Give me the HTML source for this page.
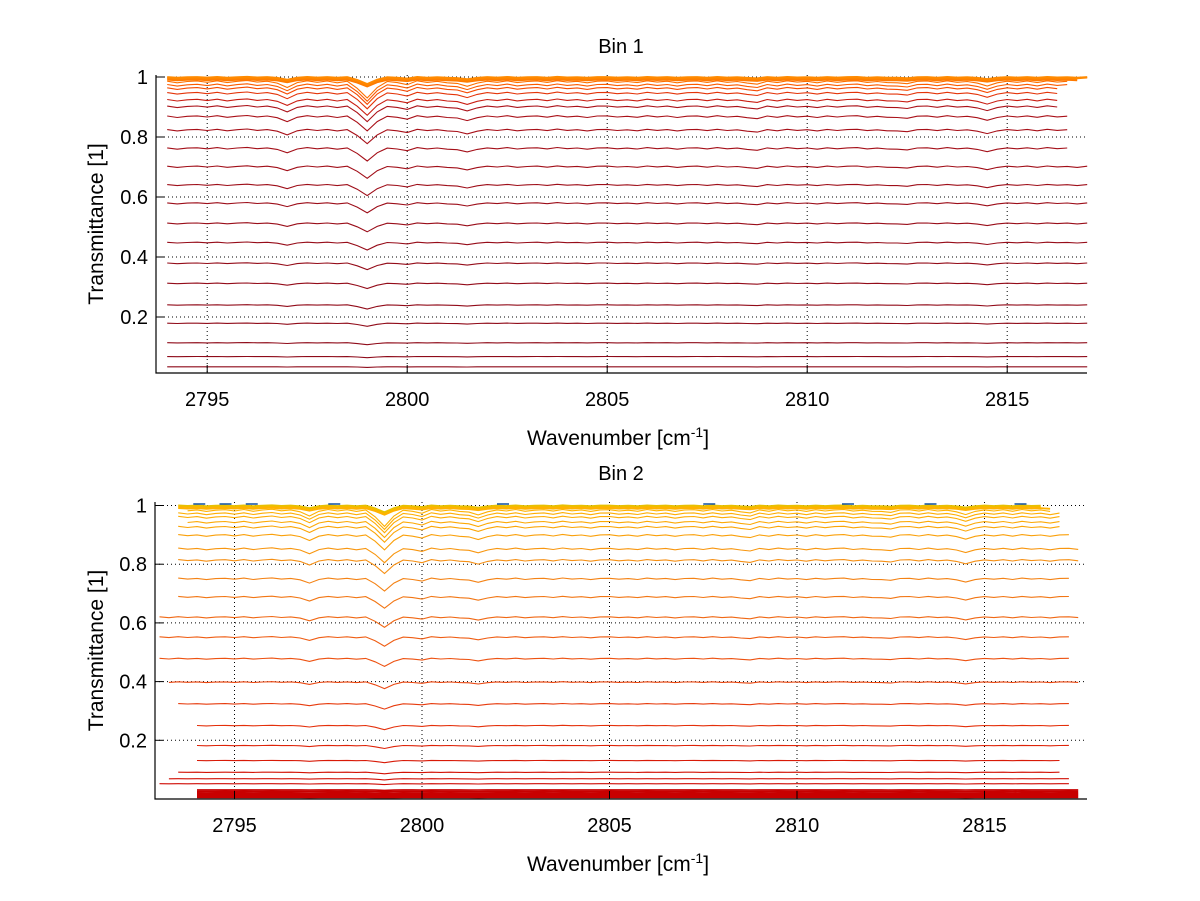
<!DOCTYPE html>
<html><head><meta charset="utf-8"><style>
html,body{margin:0;padding:0;background:#fff;}
svg{display:block;font-family:"Liberation Sans",sans-serif;}
</style></head><body>
<svg id="chart" width="1200" height="901" viewBox="0 0 1200 901"></svg>
<script>
// Shared absorption shape, sampled every 0.25 cm^-1 starting at 2793
const shapeStart = 2793;
const shapeStep = 0.25;
const shape = [
 0.05,-0.04,0.06,-0.02,0.04,-0.06,0.02,0.05,-0.03,0.06,-0.05,0.03,0.08,-0.02,0.04,-0.08,
 -0.35,-0.05,0.06,-0.03,0.05,-0.06,0.04,-0.4,-1.0,-0.35,0.02,-0.05,-0.18,0.06,-0.04,0.03,
 -0.06,-0.1,-0.28,-0.08,0.04,-0.03,0.06,-0.05,0.02,0.05,-0.04,0.07,-0.02,0.03,-0.06,0.04,
 0.05,-0.03,0.02,-0.05,0.06,-0.02,0.04,-0.06,0.03,0.05,-0.04,0.06,-0.03,0.02,-0.08,-0.15,
 0.04,-0.05,0.06,-0.02,0.03,-0.06,0.05,-0.03,0.04,0.06,-0.04,0.02,-0.05,-0.06,-0.12,0.03,
 0.05,-0.04,0.06,-0.03,0.02,-0.08,-0.26,-0.06,0.04,-0.03,0.05,-0.05,0.06,-0.02,0.03,-0.06,
 0.04,0.05,-0.03,0.02,-0.04
];
// Bin 1 trace baselines
const levels1 = [0.034,0.068,0.114,0.179,0.24,0.312,0.379,0.448,0.512,0.579,0.64,0.701,0.762,0.823,0.868,0.901,0.923,0.946,0.962,0.973,0.984,0.99,0.994,0.997,0.999];
const ends1 = [2817,2817,2817,2817,2817,2817,2817,2817,2817,2817,2817,2817,2816.6,2816.6,2816.6,2816.4,2816.4,2816.4,2816.4,2816.6,2816.6,2816.8,2816.8,2817,2817];
// Bin 2 trace baselines
const levels2 = [0.005,0.009,0.013,0.017,0.021,0.026,0.031,0.052,0.069,0.091,0.131,0.182,0.25,0.324,0.398,0.478,0.551,0.619,0.688,0.75,0.813,0.852,0.898,0.926,0.943,0.96,0.972,0.983,0.99,0.995,0.999];
const starts2 = [2793.8,2793.8,2793.8,2793.8,2793.8,2793.8,2793.8,2793,2793.1,2793.3,2793.9,2793.9,2793.8,2793.4,2793.2,2793,2793,2793,2793.3,2793.3,2793.3,2793.5,2793.5,2793.4,2793.6,2793.5,2793.5,2793.6,2793.5,2793.4,2793.5];
const ends2 = [2817.7,2817.7,2817.7,2817.7,2817.7,2817.7,2817.5,2817.3,2817.4,2817.2,2817.2,2817.4,2817.4,2817.4,2817.5,2817.4,2817.4,2817.5,2817.4,2817.4,2817.5,2817.5,2817.3,2817.2,2817.2,2817,2817,2816.8,2816.8,2816.6,2816.6];
const xTicks = [2795,2800,2805,2810,2815];
const yTicks = [0.2,0.4,0.6,0.8,1];
const yTickLabels = ["0.2","0.4","0.6","0.8","1"];

const NS = "http://www.w3.org/2000/svg";
const svg = document.getElementById('chart');
function mk(tag, attrs, parent){
  const e = document.createElementNS(NS, tag);
  for (const k in attrs) e.setAttribute(k, attrs[k]);
  (parent||svg).appendChild(e);
  return e;
}
function lerpColor(stops, t){
  t = Math.max(0, Math.min(1, t));
  const n = stops.length - 1, i = Math.min(n - 1, Math.floor(t * n)), f = t * n - i;
  const a = stops[i], b = stops[i+1];
  return 'rgb(' + [0,1,2].map(k => Math.round(a[k] + (b[k]-a[k]) * f)).join(',') + ')';
}

function panel(p){
  const g = mk('g', {});
  
  
  const X = v => p.x0 + (v - p.xMin) * p.xs;
  const Y = v => p.y1 + (1 - v) * p.ys;
  xTicks.forEach(t => {
    const gl = mk('line', {x1:X(t), x2:X(t), y1:p.top, y2:p.bottom, stroke:'#000', 'stroke-width':1, 'stroke-dasharray':'1,3'}, g);
    
    
  });
  yTicks.forEach(t => {
    const gl = mk('line', {x1:p.x0, x2:p.x1, y1:Y(t), y2:Y(t), stroke:'#000', 'stroke-width':1, 'stroke-dasharray':'1,3'}, g);
    
    
  });
  p.levels.forEach((lv, j) => {
    const s0 = p.starts ? p.starts[j] : p.xMin + 0.05;
    const s1 = p.ends[j];
    const pts = [];
    shape.forEach((sv, i) => {
      const w = shapeStart + i * shapeStep;
      if (w < s0 || w > s1) return;
      const v = lv * (1 + 0.055 * sv * (lv > 0.985 ? 0.4 : 1));
      pts.push(X(w).toFixed(1) + ',' + Y(Math.min(v, 1.003)).toFixed(1));
    });
    const col = p.color(lv, j);
    const pl = mk('polyline', {points:pts.join(' '), fill:'none', stroke:col, 'stroke-width': lv < 0.035 && p.blob ? 1.6 : (lv > 0.985 ? 1.8 : 1.1)}, g);
    
    
  });
  const ax = mk('path', {d:`M${p.x0},${p.top} V${p.bottom} H${p.x1}`, stroke:'#000', fill:'none', 'stroke-width':1.2}, g);
  
  
  xTicks.forEach(t => {
    mk('line', {x1:X(t), x2:X(t), y1:p.bottom, y2:p.bottom-8, stroke:'#000'}, g);
    const tx = mk('text', {x:X(t), y:p.bottom+33, 'text-anchor':'middle', 'font-size':20, fill:'#000'}, g);
    tx.textContent = t;
    
    
  });
  yTicks.forEach((t, i) => {
    mk('line', {x1:p.x0, x2:p.x0+8, y1:Y(t), y2:Y(t), stroke:'#000'}, g);
    const tx = mk('text', {x:p.x0-8, y:Y(t)+7, 'text-anchor':'end', 'font-size':20, fill:'#000'}, g);
    tx.textContent = yTickLabels[i];
    
    
  });
  const tt = mk('text', {x:621, y:p.top-22, 'text-anchor':'middle', 'font-size':20, fill:'#000'}, g);
  tt.textContent = p.title;
  
  
  const yl = mk('text', {x:0, y:0, transform:`translate(103,${(p.top+p.bottom)/2}) rotate(-90)`, 'text-anchor':'middle', 'font-size':21, fill:'#000'}, g);
  yl.textContent = 'Transmittance [1]';
  
  
  const xl = mk('text', {x:618, y:p.bottom+72, 'text-anchor':'middle', 'font-size':21, fill:'#000'}, g);
  xl.innerHTML = 'Wavenumber [cm<tspan dy="-8" font-size="14">-1</tspan><tspan dy="8">]</tspan>';
  
  
}

const stops1 = [[140,10,25],[150,12,25],[170,16,24],[215,35,15],[250,80,0],[255,140,0]];
panel({name:'bin1-panel', title:'Bin 1', x0:156, x1:1087, xMin:2793.72, xs:40, y1:77, ys:300, top:75, bottom:373,
  levels:levels1, ends:ends1,
  color:(lv,j)=> lv < 0.9 ? lerpColor(stops1, lv/0.9*0.4) : lerpColor(stops1, 0.4 + (lv-0.9)/0.1*0.6)});

const stops2 = [[200,0,0],[225,40,10],[235,70,15],[240,100,20],[245,140,20],[255,180,0]];
panel({name:'bin2-panel', title:'Bin 2', x0:155, x1:1087, xMin:2792.88, xs:37.5, y1:505.5, ys:293.5, top:502, bottom:799,
  levels:levels2, starts:starts2, ends:ends2, blob:true,
  color:(lv,j)=> lv < 0.035 ? '#c80000' : (lv>0.998 ? '#e8c000' : lerpColor(stops2, lv))});
const blueX = [2793.9,2794.6,2795.3,2797.5,2802.0,2807.5,2811.2,2813.4,2815.8];
blueX.forEach(w => {
  const b = mk('line', {x1:155+(w-2792.88)*37.5, x2:155+(w-2792.88)*37.5+12, y1:504, y2:504, stroke:'#1050a0', 'stroke-width':1.5});
  
  
});
</script>
</body></html>
